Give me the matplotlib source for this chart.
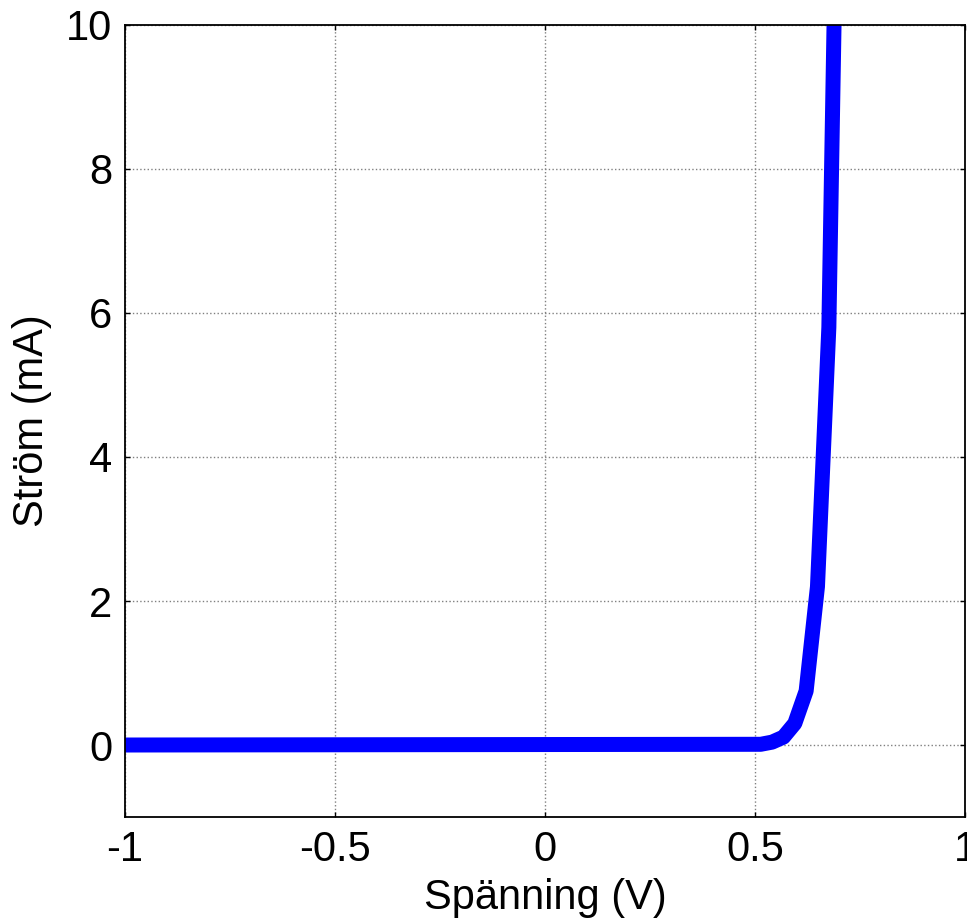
import matplotlib
matplotlib.use("Agg")
import matplotlib.pyplot as plt

# diode I-V curve
voltage = [-1.0, 0.5135, 0.5405, 0.5676, 0.5946, 0.6216, 0.6486, 0.6757, 0.7027]
current = [0.0, 0.01, 0.04, 0.11, 0.3, 0.75, 2.2, 5.8, 15.0]

x_ticks = [-1, -0.5, 0, 0.5, 1]
x_tick_labels = ["-1", "-0.5", "0", "0.5", "1"]
y_ticks = [0, 2, 4, 6, 8, 10]

plt.rcParams["font.family"] = ["Liberation Sans", "DejaVu Sans"]

fig = plt.figure(figsize=(9.67, 9.21), dpi=100)
ax = fig.add_axes([0.1293, 0.1129, 0.8687, 0.86])

ax.plot(voltage, current, color="#0000ff", linewidth=10.8,
        solid_joinstyle="round", solid_capstyle="butt")

ax.set_xlim(-1, 1)
ax.set_ylim(-1, 10)
ax.set_xticks(x_ticks)
ax.set_xticklabels(x_tick_labels)
ax.set_yticks(y_ticks)
ax.tick_params(direction="in", length=3.5, width=1, top=True, right=True,
               labelsize=30, pad=9)
ax.grid(True, linestyle=":", color="#808080", linewidth=1)
for s in ax.spines.values():
    s.set_linewidth(1.3)

ax.set_xlabel("Spänning (V)", fontsize=30, labelpad=6)
ax.set_ylabel("Ström (mA)", fontsize=30, labelpad=10)

fig.savefig("out.png", dpi=100)
